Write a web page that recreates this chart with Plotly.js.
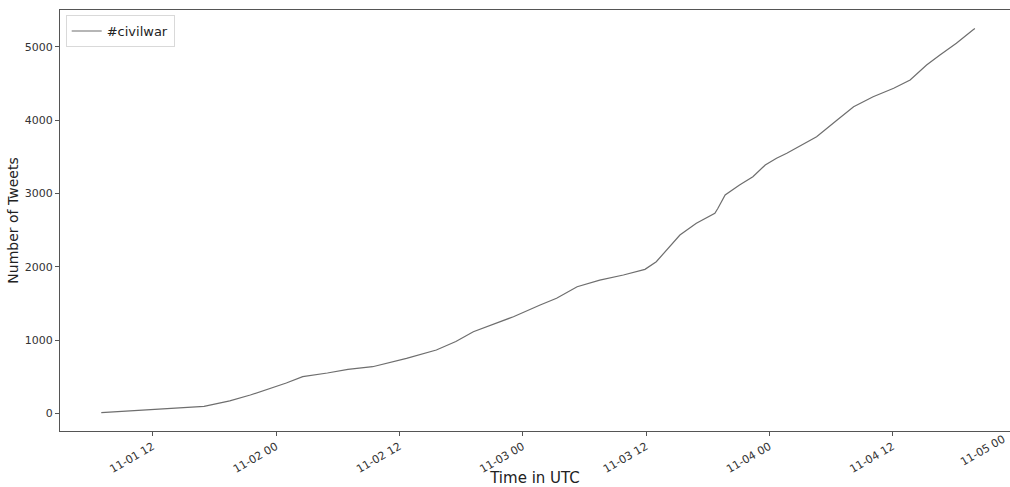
<!DOCTYPE html>
<html>
<head>
<meta charset="utf-8">
<script src="https://cdn.plot.ly/plotly-3.0.1.min.js"></script>
<style>html,body{margin:0;padding:0;background:#fff;overflow:hidden;}#chart{width:1010px;height:487px;}</style>
</head>
<body>
<div id="chart"></div>
<script>
const seriesName = "#civilwar";
const times = [
  "2019-11-01 07:00","2019-11-01 11:00","2019-11-01 14:00","2019-11-01 17:00","2019-11-01 19:30",
  "2019-11-01 21:30","2019-11-02 01:00","2019-11-02 02:36","2019-11-02 05:00","2019-11-02 07:00",
  "2019-11-02 09:24","2019-11-02 12:42","2019-11-02 15:36","2019-11-02 17:30","2019-11-02 19:12",
  "2019-11-02 21:30","2019-11-02 23:06","2019-11-03 01:42","2019-11-03 03:18","2019-11-03 05:18",
  "2019-11-03 07:30","2019-11-03 09:48","2019-11-03 11:54","2019-11-03 13:00","2019-11-03 14:18",
  "2019-11-03 15:18","2019-11-03 16:54","2019-11-03 18:42","2019-11-03 19:00","2019-11-03 19:42",
  "2019-11-03 21:06","2019-11-03 22:24","2019-11-03 23:36","2019-11-04 00:42","2019-11-04 01:42",
  "2019-11-04 02:42","2019-11-04 04:36","2019-11-04 06:36","2019-11-04 08:12","2019-11-04 10:06",
  "2019-11-04 12:06","2019-11-04 13:42","2019-11-04 15:18","2019-11-04 16:36","2019-11-04 18:12",
  "2019-11-04 19:48","2019-11-04 20:00"
];
const tweetCounts = [
  10, 40, 65, 95, 170,
  250, 413, 500, 550, 600,
  636, 750, 864, 980, 1113,
  1228, 1318, 1477, 1569, 1727,
  1818, 1887, 1964, 2068, 2273,
  2432, 2592, 2729, 2797, 2978,
  3115, 3228, 3387, 3479, 3547,
  3629, 3774, 4001, 4183, 4319,
  4434, 4547, 4752, 4888, 5048,
  5229, 5250
];
const xTickVals = ["2019-11-01 12:00","2019-11-02 00:00","2019-11-02 12:00","2019-11-03 00:00",
  "2019-11-03 12:00","2019-11-04 00:00","2019-11-04 12:00"];
const xTickText = ["11-01 12","11-02 00","11-02 12","11-03 00","11-03 12","11-04 00","11-04 12"];
const lastTickText = "11-05 00";
const yTickVals = [0, 1000, 2000, 3000, 4000, 5000];
const xTitle = "Time in UTC";
const yTitle = "Number of Tweets";

const font = "DejaVu Sans, sans-serif";
const axisCol = "#555";

Plotly.newPlot("chart", [{
  x: times, y: tweetCounts, type: "scatter", mode: "lines", name: seriesName,
  line: {color: "#6e6e6e", width: 1.2}
}], {
  width: 1010, height: 487,
  margin: {l: 60, r: 0, t: 10, b: 56},
  paper_bgcolor: "#fff", plot_bgcolor: "#fff",
  font: {family: font, color: "#222"},
  showlegend: true,
  legend: {x: 0.006, y: 0.988, xanchor: "left", yanchor: "top", bgcolor: "rgba(255,255,255,0.8)",
    bordercolor: "#d9d9d9", borderwidth: 1, font: {size: 13, family: font, color: "#222"}},
  annotations: [{
    xref: "paper", yref: "paper", x: 0.9715, y: -0.046, xanchor: "center", yanchor: "middle",
    text: lastTickText, textangle: -30, showarrow: false,
    font: {size: 11, family: font, color: "#333"}
  }],
  xaxis: {
    type: "date", range: ["2019-11-01 02:59", "2019-11-04 23:25"],
    tickmode: "array", tickvals: xTickVals, ticktext: xTickText, tickangle: -30,
    tickfont: {size: 11, family: font, color: "#333"},
    ticks: "outside", ticklen: 4, tickcolor: axisCol,
    showline: true, linecolor: axisCol, linewidth: 1, mirror: true,
    showgrid: false, zeroline: false,
    title: {text: xTitle, font: {size: 15, family: font, color: "#222"}, standoff: 2}
  },
  yaxis: {
    range: [-241, 5502], tickmode: "array", tickvals: yTickVals,
    tickfont: {size: 11, family: font, color: "#333"},
    ticks: "outside", ticklen: 4, tickcolor: axisCol,
    showline: true, linecolor: axisCol, linewidth: 1,
    showgrid: false, zeroline: false,
    title: {text: yTitle, font: {size: 14, family: font, color: "#222"}, standoff: 2}
  }
}, {displayModeBar: false, staticPlot: true});
</script>
</body>
</html>
